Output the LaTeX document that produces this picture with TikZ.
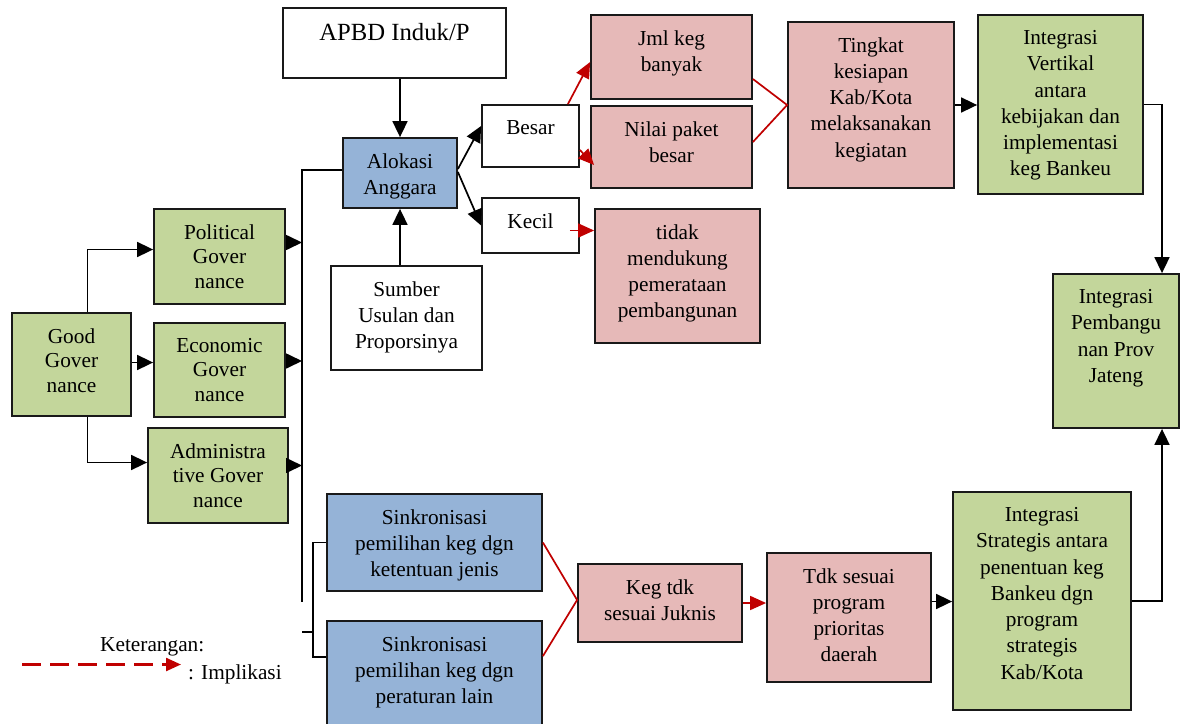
\documentclass[tikz,border=0pt]{standalone}
\usepackage{fontspec}
\setmainfont{Liberation Serif}
\usetikzlibrary{arrows.meta,calc}
\definecolor{gg}{RGB}{195,214,155}
\definecolor{bb}{RGB}{149,179,215}
\definecolor{pk}{RGB}{230,185,184}
\definecolor{rd}{RGB}{192,0,0}
\tikzset{
  box/.style={draw=black!90, line width=1.8pt, rectangle, inner sep=0pt},
  txt/.style={anchor=north, align=center, inner sep=0pt, text=black},
  std/.style={font=\fontsize{21.3}{26.3}\selectfont},
  lft/.style={font=\fontsize{21.3}{24.5}\selectfont},
  big/.style={font=\fontsize{24.7}{30}\selectfont},
  conn/.style={line width=1.7pt, -{Triangle[length=16pt,width=15pt]}},
  plain/.style={line width=1.7pt},
  imp/.style={draw=rd, line width=1.7pt, -{Triangle[length=16pt,width=14pt]}},
  impl/.style={draw=rd, line width=1.7pt},
}
\newcommand\bx[8]{%
  \pgfmathsetmacro\bxw{#4-#2}\pgfmathsetmacro\bxh{#5-#3}%
  \node[box,#6,minimum width=\bxw pt,minimum height=\bxh pt] (#1) at ({(#2+#4)/2},{(#3+#5)/2}) {};
  \node[txt,#7] (#1t) at ([yshift=-16pt]#1.north) {#8};}
\begin{document}
\begin{tikzpicture}[x=1pt,y=-1pt]
\clip (0,0) rectangle (1180,723);
\fill[white] (0,0) rectangle (1180,723);
% boxes
\bx{apbd}{283}{8}{506}{78}{fill=white}{big}{APBD Induk/P}
\bx{alok}{343}{138}{457}{208}{fill=bb}{std}{Alokasi\\Anggara}
\bx{besar}{482}{105}{579}{167}{fill=white}{std}{Besar}
\bx{kecil}{482}{198}{579}{253}{fill=white}{std}{Kecil}
\bx{jml}{591}{15}{752}{99}{fill=pk}{std}{Jml keg\\banyak}
\bx{nilai}{591}{106}{752}{188}{fill=pk}{std}{Nilai paket\\besar}
\bx{ting}{788}{22}{954}{188}{fill=pk}{std}{Tingkat\\kesiapan\\Kab/Kota\\melaksanakan\\kegiatan}
\bx{iv}{978}{15}{1143}{194}{fill=gg}{std}{Integrasi\\Vertikal\\antara\\kebijakan dan\\implementasi\\keg Bankeu}
\bx{tidak}{595}{209}{760}{343}{fill=pk}{std}{tidak\\mendukung\\pemerataan\\pembangunan}
\bx{sumb}{331}{266}{482}{370}{fill=white}{std}{Sumber\\Usulan dan\\Proporsinya}
\bx{good}{12}{313}{131}{416}{fill=gg}{lft}{Good\\Gover\\nance}
\bx{pol}{154}{209}{285}{304}{fill=gg}{lft}{Political\\Gover\\nance}
\bx{eco}{154}{323}{285}{417}{fill=gg}{lft}{Economic\\Gover\\nance}
\bx{adm}{148}{428}{288}{523}{fill=gg}{lft}{Administra\\tive Gover\\nance}
\bx{pemb}{1053}{274}{1179}{428}{fill=gg}{std}{Integrasi\\Pembangu\\nan Prov\\Jateng}
\bx{sa}{327}{494}{542}{591}{fill=bb}{std}{Sinkronisasi\\pemilihan keg dgn\\ketentuan jenis}
\bx{sb}{327}{621}{542}{730}{fill=bb}{std}{Sinkronisasi\\pemilihan keg dgn\\peraturan lain}
\bx{keg}{578}{564}{742}{642}{fill=pk}{std}{Keg tdk\\sesuai Juknis}
\bx{tdk}{767}{553}{931}{682}{fill=pk}{std}{Tdk sesuai\\program\\prioritas\\daerah}
\bx{is}{953}{492}{1131}{710}{fill=gg}{std}{Integrasi\\Strategis antara\\penentuan keg\\Bankeu dgn\\program\\strategis\\Kab/Kota}
% black connectors
\draw[conn] (alok.north |- apbd.south) -- (alok.north);
\draw[conn] (alok.south |- sumb.north) -- (alok.south);
\draw[conn] ($(alok.east)+(0,-4)$) -- ($(besar.west)+(0,-10)$);
\draw[conn] ($(alok.east)+(0,-1)$) -- (kecil.west);
\draw[conn] (ting.east) -- (ting.east -| iv.west);
\draw[conn] (iv.east) -| ($(pemb.north)+(46,0)$);
\draw[conn] (is.east) -| ($(pemb.south)+(46,0)$);
\coordinate (t1) at ($(tdk.east)+(0,-16)$);
\draw[conn] (t1) -- (t1 -| is.west);
% good governance
\draw[conn] ($(good.north)+(16,0)$) |- ($(pol.west)+(0,-7)$);
\coordinate (g1) at ($(good.east)+(0,-2)$);
\draw[conn] (g1) -- (g1 -| eco.west);
\draw[conn] ($(good.south)+(16,0)$) |- ($(adm.west)+(0,-13)$);
% bus
\coordinate (busT) at (302,170);
\coordinate (busB) at (302,602);
\draw[plain] (alok.west |- busT) -- (busT) -- (busB);
\coordinate (p1) at ($(pol.east)+(0,-14)$);
\coordinate (e1) at ($(eco.east)+(0,-9)$);
\coordinate (a1) at ($(adm.east)+(0,-10)$);
\draw[conn] (p1) -- (p1 -| busT);
\draw[conn] (e1) -- (e1 -| busT);
\draw[conn] (a1) -- (a1 -| busT);
\coordinate (lx) at (313,0);
\coordinate (sb1) at ($(sb.north west)+(0,37)$);
\draw[plain] (sa.west) -- (sa.west -| lx) -- (sb1 -| lx) -- (sb1);
\coordinate (tk) at (302,632);
\draw[plain] (tk) -- (tk -| lx);
% red implications
\draw[imp] ($(besar.north east)+(-12,0)$) -- ($(jml.west)+(0,5)$);
\draw[imp] ($(besar.east)+(0,14)$) -- ($(nilai.west)+(4,18)$);
\coordinate (k1) at ($(kecil.east)+(-10,5)$);
\draw[imp] (k1) -- (k1 -| tidak.west);
\draw[impl] ($(jml.east)+(0,22)$) -- (ting.west) -- ($(nilai.east)+(0,-5)$);
\draw[impl] (sa.east) -- ($(keg.west)+(0,-3)$) -- ($(sb.north east)+(0,36)$);
\draw[imp] (keg.east) -- (keg.east -| tdk.west);
% legend
\node[std, anchor=base west, inner sep=0pt] (ket) at (100,651) {Keterangan:};
\node[std, anchor=base west, inner sep=0pt] (impk) at (188,679) {: Implikasi};
\coordinate (l1) at (22,664.5);
\coordinate (l2) at (181,664.5);
\draw[draw=rd, line width=2.4pt, dash pattern=on 19pt off 9pt, -{Triangle[length=15pt,width=13pt]}] (l1) -- (l2);
\end{tikzpicture}
\end{document}
